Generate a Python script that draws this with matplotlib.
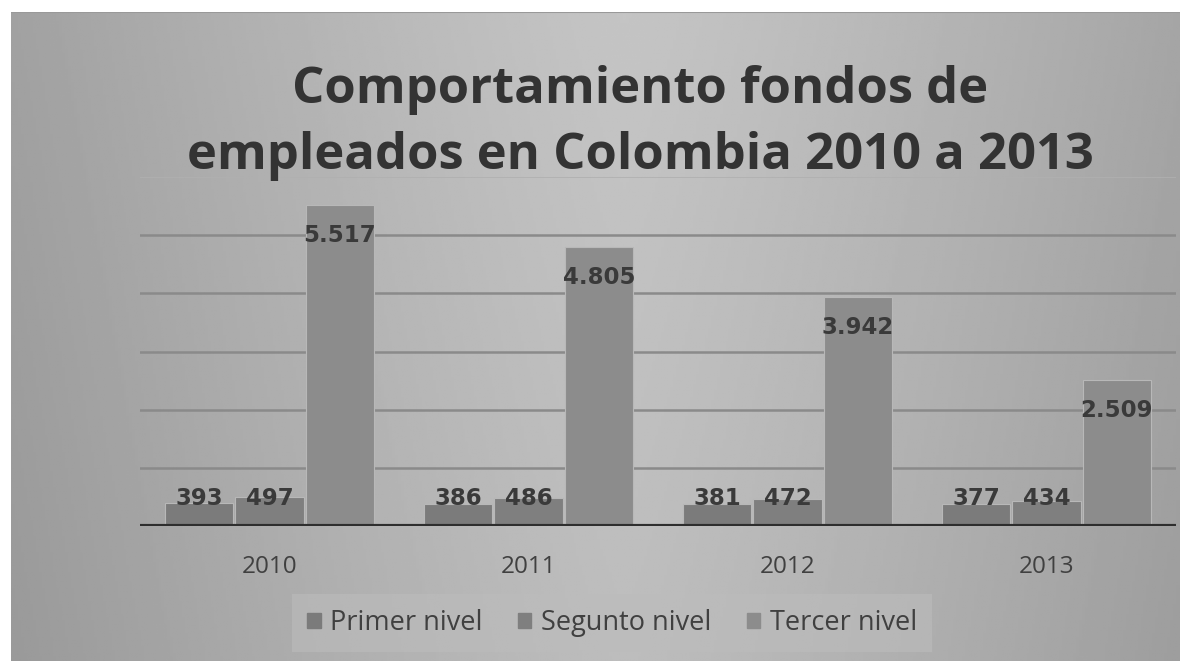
import matplotlib.pyplot as plt
import numpy as np

# data
years = ['2010', '2011', '2012', '2013']
primer = [393, 386, 381, 377]
segundo = [497, 486, 472, 434]
tercer = [5517, 4805, 3942, 2509]
series_names = ['Primer nivel', 'Segunto nivel', 'Tercer nivel']
colors = ['#7b7b7b', '#7f7f7f', '#8c8c8c']

W, H = 1180, 661
fig = plt.figure(figsize=(W / 100, H / 100), dpi=100, facecolor='white')

# chart area gradient background
bg = fig.add_axes([11 / W, 0, 1 - 11 / W, 1 - 12 / H])
gx, gy = np.meshgrid(np.linspace(-1, 1, 400), np.linspace(0, 1, 200))
shade = 0.77 - 0.13 * np.abs(gx - 0.05) ** 1.2 - 0.03 * gy
bg.imshow(shade, cmap='gray', vmin=0, vmax=1, aspect='auto', extent=[0, 1, 0, 1])
bg.axhline(1, color='#999999', lw=1.5)
bg.set_axis_off()

ax = fig.add_axes([140 / W, 1 - 526 / H, 1036 / W, (526 - 177) / H])
ax.patch.set_alpha(0)

x = np.arange(len(years))
width = 0.265
offsets = [-0.272, 0, 0.272]
for vals, off, c in zip([primer, segundo, tercer], offsets, colors):
    ax.bar(x + off, vals, width, color=c, edgecolor='#b8b8b8', linewidth=0.8, zorder=3)
    for xi, v in zip(x + off, vals):
        # big bars: label inside the top; small bars: label sits on the top
        ty = v - 530 if v > 1000 else 470
        ax.text(xi, ty, f'{v:,}'.replace(',', '.'), ha='center', va='center',
                fontsize=16.5, fontweight='bold', color='#3a3a3a', zorder=4)

ax.set_xlim(-0.5, 3.5)
ax.set_ylim(0, 6000)
for gv in range(1000, 6000, 1000):
    ax.axhline(gv, color='#8a8a8a', lw=1.8, zorder=1)
ax.axhline(6000, color='#b0b0b0', lw=1.2, zorder=1)
ax.axhline(0, color='#2e2e2e', lw=3, zorder=5, xmin=0, xmax=1)
for s in ax.spines.values():
    s.set_visible(False)
ax.set_yticks([])
ax.set_xticks(x)
ax.set_xticklabels(years, fontsize=17.5, color='#404040', family='Open Sans')
ax.tick_params(axis='x', length=0, pad=21)

fig.text(640 / W, 1 - 123 / H, 'Comportamiento fondos de\nempleados en Colombia 2010 a 2013',
         ha='center', va='center', fontsize=36.5, fontweight='bold', color='#333333',
         family='Open Sans', linespacing=1.4)

handles = [plt.Rectangle((0, 0), 1, 1, color=c) for c in colors]
leg = fig.legend(handles, series_names, loc='center', bbox_to_anchor=(612 / W, 1 - 623 / H),
                 ncol=3, frameon=True, handlelength=0.5, handleheight=0.5,
                 handletextpad=0.35, columnspacing=1.3, prop={'family': 'Open Sans', 'size': 19.5})
leg.get_frame().set_facecolor('#bcbcbc')
leg.get_frame().set_edgecolor('none')
leg.get_frame().set_alpha(0.6)
leg.get_frame().set_boxstyle('square', pad=0.15)
for t in leg.get_texts():
    t.set_color('#404040')

fig.savefig('out.png', dpi=100)
